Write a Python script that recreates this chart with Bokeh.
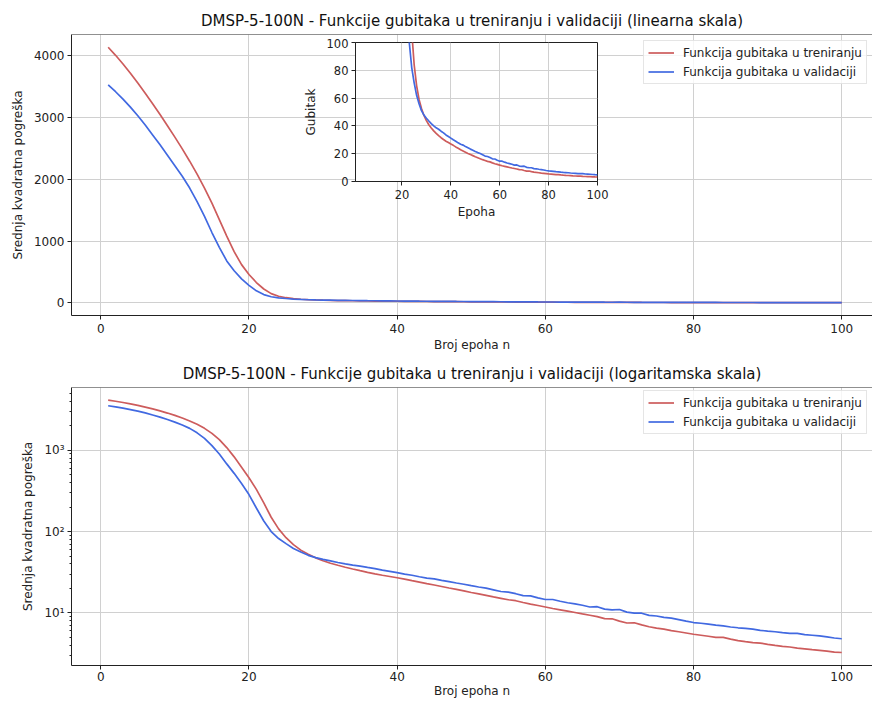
from bokeh.plotting import figure
from bokeh.layouts import column
from bokeh.models import (Range1d, FixedTicker, CustomJSTickFormatter, Legend, LegendItem,
                          Span, GridBox, ColumnDataSource)
from bokeh.embed import file_html
from bokeh.resources import INLINE

# ---------------- data ----------------
epochs = list(range(1, 101))
train_loss = [4140, 4010, 3870, 3720, 3560, 3395, 3225, 3050, 2870, 2685,
              2495, 2295, 2085, 1860, 1615, 1350, 1080, 830, 620, 460,
              330, 225, 150, 108, 84, 69, 59, 52.5, 47.5, 43.8,
              40.8, 38.5, 36.4, 34.6, 33.0, 31.5, 30.2, 29.0, 28.0, 27.0,
              26.0, 24.9, 23.9, 22.9, 22.0, 21.1, 20.2, 19.4, 18.6, 17.8,
              17.1, 16.4, 15.7, 15.1, 14.5, 14.1, 13.4, 12.8, 12.3, 11.8,
              11.3, 10.9, 10.5, 10.1, 9.7, 9.35, 9.0, 8.5, 8.45, 7.9,
              7.5, 7.55, 7.1, 6.75, 6.5, 6.3, 6.05, 5.85, 5.65, 5.45,
              5.3, 5.15, 5.0, 4.98, 4.75, 4.55, 4.42, 4.3, 4.25, 4.1,
              3.97, 3.86, 3.8, 3.68, 3.6, 3.52, 3.45, 3.38, 3.28, 3.25]
val_loss = [3530, 3420, 3300, 3170, 3030, 2880, 2720, 2560, 2390, 2220,
            2050, 1860, 1640, 1400, 1140, 900, 680, 520, 390, 285,
            195, 135, 100, 82, 71, 62, 56, 51, 47.8, 45.5,
            43.5, 41.6, 40.0, 38.6, 37.6, 36.2, 35.0, 33.5, 32.4, 31.2,
            30.0, 29.0, 27.8, 26.8, 26.2, 25.1, 24.2, 23.3, 22.5, 21.6,
            20.8, 20.1, 19.2, 18.3, 18.0, 17.2, 16.3, 16.2, 15.3, 14.6,
            14.6, 13.9, 13.3, 12.9, 12.4, 11.8, 11.9, 11.1, 10.9, 11.0,
            10.2, 9.9, 9.9, 9.3, 9.15, 8.8, 8.6, 8.25, 7.9, 7.6,
            7.45, 7.25, 7.05, 6.9, 6.7, 6.55, 6.45, 6.3, 6.1, 5.95,
            5.85, 5.7, 5.6, 5.6, 5.4, 5.3, 5.2, 5.05, 4.9, 4.8]

title_lin = "DMSP-5-100N - Funkcije gubitaka u treniranju i validaciji (linearna skala)"
title_log = "DMSP-5-100N - Funkcije gubitaka u treniranju i validaciji (logaritamska skala)"
label_train = "Funkcija gubitaka u treniranju"
label_val = "Funkcija gubitaka u validaciji"
x_label = "Broj epoha n"
y_label = "Srednja kvadratna pogreška"
inset_x_label = "Epoha"
inset_y_label = "Gubitak"
x_ticks = [0, 20, 40, 60, 80, 100]
lin_y_ticks = [0, 1000, 2000, 3000, 4000]
log_y_ticks = [10, 100, 1000]
log_minor_ticks = [m * d for d in (1, 10, 100, 1000) for m in range(2, 10) if m * d < 6000]
inset_x_ticks = [20, 40, 60, 80, 100]
inset_y_ticks = [0, 20, 40, 60, 80, 100]

RED = "#cd5c5c"
BLUE = "#4169e1"
FONT = "DejaVu Sans"
AX = "#222222"
GRID = "#d0d0d0"

src = ColumnDataSource(dict(epoch=epochs, train=train_loss, val=val_loss))


def style_axes(p, tick_size="12px"):
    for ax in (p.xaxis[0], p.yaxis[0]):
        ax.axis_line_color = AX
        ax.major_tick_line_color = AX
        ax.minor_tick_line_color = AX
        ax.major_tick_out = 4
        ax.major_tick_in = 0
        ax.minor_tick_out = 0
        ax.minor_tick_in = 0
        ax.major_label_text_font = FONT
        ax.major_label_text_font_size = tick_size
        ax.major_label_text_color = "#222222"
        ax.axis_label_text_font = FONT
        ax.axis_label_text_font_size = "12px"
        ax.axis_label_text_font_style = "normal"
        ax.axis_label_text_color = "#222222"
    p.xaxis[0].major_label_standoff = 4
    p.yaxis[0].major_label_standoff = 3
    p.xaxis[0].axis_label_standoff = 2
    p.yaxis[0].axis_label_standoff = 6
    for g in (p.xgrid[0], p.ygrid[0]):
        g.grid_line_color = GRID
        g.grid_line_width = 1


def style_title(p, text, standoff=10):
    p.title.text = text
    p.title.align = "center"
    p.title.text_font = FONT
    p.title.text_font_size = "15px"
    p.title.text_font_style = "normal"
    p.title.text_color = "#111111"
    p.title.standoff = standoff


def add_legend(p, loc, r1, r2):
    leg = Legend(items=[LegendItem(label=label_train, renderers=[r1]),
                        LegendItem(label=label_val, renderers=[r2])],
                 location=loc, margin=0, padding=4, spacing=4,
                 glyph_width=26, glyph_height=15, label_height=15, label_standoff=9,
                 label_text_font=FONT, label_text_font_size="12px", label_text_color="#222222",
                 border_line_color="#cccccc", border_line_width=1,
                 background_fill_color="white", background_fill_alpha=0.8)
    p.add_layout(leg)


# ---------------- top (linear) ----------------
p1 = figure(width=872, height=358, output_backend="svg", toolbar_location=None,
            x_range=Range1d(-3.95, 104.15), y_range=Range1d(-204, 4347),
            min_border_left=71, min_border_right=0, min_border_top=34, min_border_bottom=43,
            outline_line_color=None, background_fill_color="white", border_fill_color="white")
style_title(p1, title_lin)
style_axes(p1)
p1.xaxis[0].ticker = FixedTicker(ticks=x_ticks)
p1.yaxis[0].ticker = FixedTicker(ticks=lin_y_ticks)
p1.xaxis[0].axis_label = x_label
p1.yaxis[0].axis_label = y_label
r1 = p1.line("epoch", "train", source=src, line_color=RED, line_width=1.7)
r2 = p1.line("epoch", "val", source=src, line_color=BLUE, line_width=1.7)
p1.add_layout(Span(location=4347, dimension="width", line_color=AX, line_width=1))
add_legend(p1, (572, 231), r1, r2)

# ---------------- inset (wrapped, overlapping the top plot's cell) ----------------
ins = figure(width=311, height=184, output_backend="svg", toolbar_location=None, title=None,
             x_range=Range1d(1, 100), y_range=Range1d(0, 100),
             min_border_left=55, min_border_right=14, min_border_top=4, min_border_bottom=41,
             outline_line_color=AX, outline_line_width=1,
             background_fill_color="white", border_fill_color=None)
style_axes(ins, tick_size="11.5px")
ins.xaxis[0].ticker = FixedTicker(ticks=inset_x_ticks)
ins.yaxis[0].ticker = FixedTicker(ticks=inset_y_ticks)
ins.xaxis[0].axis_label = inset_x_label
ins.yaxis[0].axis_label = inset_y_label
ins.xaxis[0].axis_label_standoff = 3
ins.yaxis[0].axis_label_standoff = 6
ins.line("epoch", "train", source=src, line_color=RED, line_width=1.7)
ins.line("epoch", "val", source=src, line_color=BLUE, line_width=1.7)
ins_box = column(ins, margin=(38, 0, 0, 300))

# ---------------- bottom (log) ----------------
p2 = figure(width=872, height=344, output_backend="svg", toolbar_location=None,
            y_axis_type="log",
            x_range=Range1d(-3.95, 104.15), y_range=Range1d(2.25, 5920),
            min_border_left=71, min_border_right=0, min_border_top=28, min_border_bottom=37,
            outline_line_color=None, background_fill_color="white", border_fill_color="white")
style_title(p2, title_log, standoff=9)
style_axes(p2)
p2.xaxis[0].ticker = FixedTicker(ticks=x_ticks)
p2.xaxis[0].axis_label = x_label
p2.xaxis[0].major_label_standoff = 2
p2.xaxis[0].axis_label_standoff = 0
p2.xaxis[0].axis_label_text_line_height = 1.0
p2.yaxis[0].ticker = FixedTicker(ticks=log_y_ticks, minor_ticks=log_minor_ticks)
p2.yaxis[0].minor_tick_out = 2
p2.yaxis[0].formatter = CustomJSTickFormatter(code="""
const e = Math.round(Math.log10(tick));
const sup = {"-1": "\u207b\u00b9", "0": "\u2070", "1": "\u00b9", "2": "\u00b2", "3": "\u00b3", "4": "\u2074"};
return "10" + (sup[String(e)] !== undefined ? sup[String(e)] : String(e));
""")
p2.yaxis[0].axis_label = y_label
p2.ygrid[0].ticker = FixedTicker(ticks=log_y_ticks)
q1 = p2.line("epoch", "train", source=src, line_color=RED, line_width=1.7)
q2 = p2.line("epoch", "val", source=src, line_color=BLUE, line_width=1.7)
p2.add_layout(Span(location=5920, dimension="width", line_color=AX, line_width=1))
add_legend(p2, (572, 231), q1, q2)

layout = GridBox(children=[(p1, 0, 0), (ins_box, 0, 0), (p2, 1, 0)], spacing=0)

with open("out.html", "w") as f:
    f.write(file_html(layout, INLINE))
